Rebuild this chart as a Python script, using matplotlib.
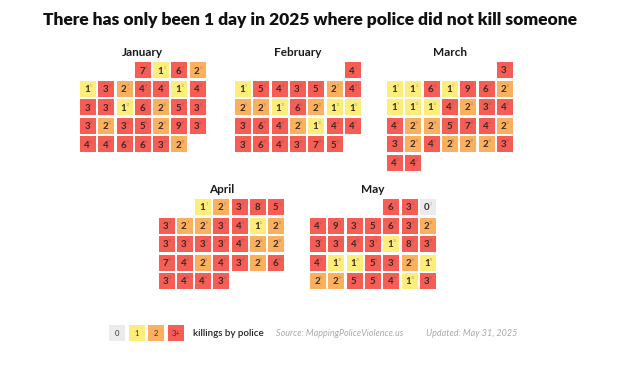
import datetime
import matplotlib
matplotlib.use("Agg")
import matplotlib.pyplot as plt
from matplotlib.patches import Rectangle

# killings by police, one value per day
january = [7, 1, 6, 2,
           1, 3, 2, 4, 4, 1, 4,
           3, 3, 1, 6, 2, 5, 3,
           3, 2, 3, 5, 2, 9, 3,
           4, 4, 6, 6, 3, 2]
february = [4,
            1, 5, 4, 3, 5, 2, 4,
            2, 2, 1, 6, 2, 1, 1,
            3, 6, 4, 2, 1, 4, 4,
            3, 6, 4, 3, 7, 5]
march = [3,
         1, 1, 6, 1, 9, 6, 2,
         1, 1, 1, 4, 2, 3, 4,
         4, 2, 2, 5, 7, 4, 2,
         3, 2, 4, 2, 2, 2, 3,
         4, 4]
april = [1, 2, 3, 8, 5,
         3, 2, 2, 3, 4, 1, 2,
         3, 3, 3, 3, 4, 2, 2,
         7, 4, 2, 4, 3, 2, 6,
         3, 4, 4, 3]
may = [6, 3, 0,
       4, 9, 3, 5, 6, 3, 2,
       3, 3, 4, 3, 1, 8, 3,
       4, 1, 1, 5, 3, 2, 1,
       2, 2, 5, 5, 4, 1, 3]

month_names = ["January", "February", "March", "April", "May"]
month_values = [january, february, march, april, may]
month_numbers = [1, 2, 3, 4, 5]

legend_labels = ["0", "1", "2", "3+"]
colors = ["#ebebeb", "#fdee7c", "#fbb05e", "#f55d55"]

W, H = 619, 365
fig = plt.figure(figsize=(W / 100, H / 100), dpi=100)

# top-left pixel of first cell column / row for each month
origins = [(80, 62.5), (235, 62.5), (387, 62), (158.5, 199), (310, 199)]
px, py = 18.3, 18.5
cell = 16

font = ["Lato", "DejaVu Sans"]


def color_for(v):
    return colors[min(v, 3)]


for name, vals, m, (ox, oy) in zip(month_names, month_values, month_numbers, origins):
    # axes with one unit per calendar slot
    left = ox - (px - cell) / 2
    top = oy - (py - cell) / 2
    ax = fig.add_axes([left / W, 1 - (top + 6 * py) / H, 7 * px / W, 6 * py / H])
    ax.set_xlim(0, 7)
    ax.set_ylim(6, 0)
    ax.axis("off")
    first = datetime.date(2025, m, 1)
    start_col = (first.weekday() + 1) % 7  # sunday first
    cw, ch = cell / px, cell / py
    for i, v in enumerate(vals):
        k = start_col + i
        col, row = k % 7, k // 7
        x0 = col + (1 - cw) / 2
        y0 = row + (1 - ch) / 2
        ax.add_patch(Rectangle((x0, y0), cw, ch, facecolor=color_for(v), edgecolor="none"))
        ax.text(col + 0.45, row + 0.55, str(v), ha="center", va="center",
                fontsize=7, fontweight="bold", color="#3a2a2a", family=font)
        ax.text(col + 0.68, row + 0.36, str(i + 1), ha="center", va="center",
                fontsize=2.6, color="#555555", alpha=0.5, family=font)
    ax.text(3.5, -0.45, name, ha="center", va="center", fontsize=8.5,
            fontweight="bold", color="#1a1a1a", family=font)

fig.text(310 / W, 1 - 20 / H,
         "There has only been 1 day in 2025 where police did not kill someone",
         ha="center", va="center", fontsize=12.5, fontweight="heavy",
         color="#111111", family=font)

# legend
lax = fig.add_axes([0, 0, 1, 1])
lax.set_xlim(0, W)
lax.set_ylim(H, 0)
lax.axis("off")
lx = 109
for lab, c in zip(legend_labels, colors):
    lax.add_patch(Rectangle((lx, 325), 16, 16, facecolor=c, edgecolor="none"))
    lax.text(lx + 8, 333.5, lab, ha="center", va="center", fontsize=5.5,
             color="#333333", family=font)
    lx += 19.5
lax.text(193, 333, "killings by police", ha="left", va="center", fontsize=7,
         fontweight="semibold", color="#222222", family=font)
lax.text(276, 333, "Source: MappingPoliceViolence.us", ha="left", va="center",
         fontsize=6.5, style="italic", color="#aaaaaa", family=font)
lax.text(426, 333, "Updated: May 31, 2025", ha="left", va="center",
         fontsize=6.5, style="italic", color="#aaaaaa", family=font)

fig.savefig("out.png", dpi=100, facecolor="white")
